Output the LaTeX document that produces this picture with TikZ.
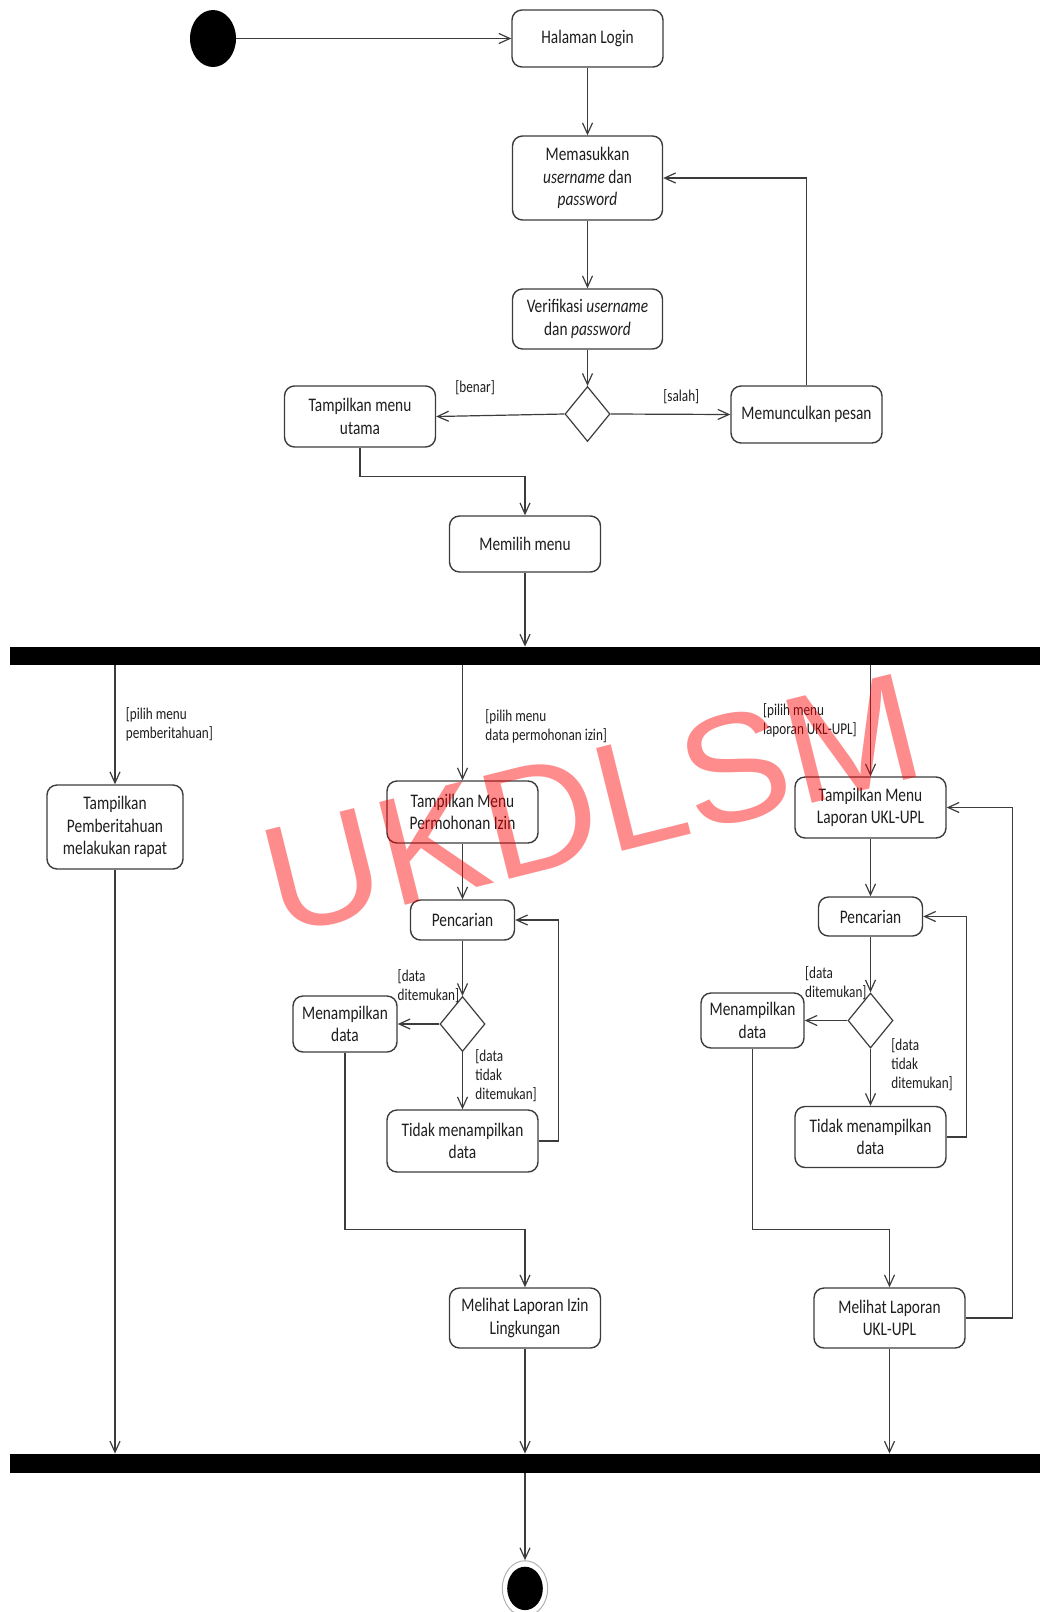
\documentclass[tikz,border=0pt]{standalone}
\usepackage{fontspec}
\usetikzlibrary{arrows.meta,shapes.geometric,calc}
\newfontfamily\carlitofam[FakeStretch=0.8]{Carlito}
\newfontfamily\wmfam[FakeStretch=1.045]{Liberation Sans}
\newcommand\boxfont{\carlitofam\fontsize{9.6}{11.35}\selectfont}
\newcommand\lblfont{\carlitofam\fontsize{8.25}{9.5}\selectfont}
\newcommand\wmfont{\wmfam\fontsize{77}{77}\selectfont}
\definecolor{linegray}{RGB}{60,60,60}
\definecolor{inkgray}{RGB}{30,30,30}

\begin{document}
\begin{tikzpicture}[x=0.5pt,y=-0.5pt,
  act/.style={draw=linegray, line width=0.7pt, rounded corners=5pt, align=center,
    font=\boxfont, text=inkgray, inner sep=0pt},
  dec/.style={diamond, draw=linegray, line width=0.6pt, inner sep=0pt,
    minimum width=22.5pt, minimum height=27.5pt},
  bar/.style={fill=black, inner sep=0pt, minimum width=517.5pt},
  flow/.style={draw=linegray, line width=0.6pt, -{Straight Barb[length=5.5pt,width=5pt]}},
  guard/.style={font=\lblfont, text=inkgray, align=left, inner sep=0pt, anchor=north west},
  stampstyle/.style={font=\wmfont, text=red, text opacity=0.45, inner sep=0pt},
]
\useasboundingbox (0,0) rectangle (1039,1612);

% ---- login part ----
\node[ellipse, fill=black, inner sep=0pt, minimum width=23pt, minimum height=28.5pt] (start) at (213,38.5) {};
\node[act, minimum width=75.5pt, minimum height=28.5pt] (login) at (587.5,38.5) {Halaman Login};
\node[act, minimum width=75pt, minimum height=42pt] (input) at (587.5,178) {Memasukkan\\\textit{username} dan\\\textit{password}};
\node[act, minimum width=75pt, minimum height=30pt] (verify) at (587.5,319) {Verifikasi \textit{username}\\dan \textit{password}};
\node[dec] (dec1) at (587.5,414) {};
\node[act, minimum width=75.5pt, minimum height=30.5pt] (menu) at (360,416.5) {Tampilkan menu\\utama};
\node[act, minimum width=75.5pt, minimum height=28.5pt] (msg) at (806.5,414.5) {Memunculkan pesan};
\node[act, minimum width=75.5pt, minimum height=28pt] (choose) at (525,544) {Memilih menu};

\node[bar, minimum height=9pt] (fork) at (527.5,656) {};

% ---- branches ----
\node[act, minimum width=68pt, minimum height=42pt] (notice) at (115,827) {Tampilkan\\Pemberitahuan\\melakukan rapat};

\node[act, minimum width=75.5pt, minimum height=31pt] (reqmenu) at (462.5,812) {Tampilkan Menu\\Permohonan Izin};
\node[act, minimum width=52pt, minimum height=20pt] (search1) at (462.5,920) {Pencarian};
\node[dec] (dec2) at (462.5,1024) {};
\node[act, minimum width=52pt, minimum height=28pt] (show1) at (345,1024) {Menampilkan\\data};
\node[act, minimum width=75.5pt, minimum height=31pt] (none1) at (462.5,1141) {Tidak menampilkan\\data};
\node[act, minimum width=75.5pt, minimum height=30pt] (view1) at (525,1318) {Melihat Laporan Izin\\Lingkungan};

\node[act, minimum width=75.5pt, minimum height=30.5pt] (uklmenu) at (870.5,807.5) {Tampilkan Menu\\Laporan UKL-UPL};
\node[act, minimum width=52pt, minimum height=19.5pt] (search2) at (870.5,916.5) {Pencarian};
\node[dec] (dec3) at (870.5,1020.5) {};
\node[act, minimum width=51.5pt, minimum height=27.5pt] (show2) at (752.5,1020.5) {Menampilkan\\data};
\node[act, minimum width=75.5pt, minimum height=30.5pt] (none2) at (870.5,1137) {Tidak menampilkan\\data};
\node[act, minimum width=75.5pt, minimum height=30pt] (view2) at (889.5,1318) {Melihat Laporan\\UKL-UPL};

\node[bar, minimum height=9.5pt] (join) at (527.5,1463.5) {};

\node[ellipse, draw=black!30, line width=0.5pt, inner sep=0pt, minimum width=22.7pt, minimum height=27.7pt] (final) at (525,1588.4) {};
\node[ellipse, fill=black, inner sep=0pt, minimum width=17.8pt, minimum height=21.7pt] (finaldot) at (final.center) {};

% ---- connectors ----
\draw[flow] (start.east) -- (login.west);
\draw[flow] (login.south) -- (input.north);
\draw[flow] (input.south) -- (verify.north);
\draw[flow] (verify.south) -- (dec1.north);
\draw[flow] (dec1.west) -- (menu.east);
\draw[flow] (dec1.east) -- (msg.west);
\draw[flow] (msg.north) |- (input.east);
\draw[flow] (menu.south) -- ++(0,29) -| (choose.north);
\draw[flow] (choose.south) -- (choose.south |- fork.north);

\draw[flow] (fork.south -| notice.north) -- (notice.north);
\draw[flow] (fork.south -| reqmenu.north) -- (reqmenu.north);
\draw[flow] (fork.south -| uklmenu.north) -- (uklmenu.north);

\draw[flow] (notice.south) -- (notice.south |- join.north);

\draw[flow] (reqmenu.south) -- (search1.north);
\draw[flow] (search1.south) -- (dec2.north);
\draw[flow] (dec2.west) -- (show1.east);
\draw[flow] (dec2.south) -- (none1.north);
\draw[flow] (none1.east) -- ++(19.5,0) |- (search1.east);
\draw[flow] (show1.south) -- ++(0,177) -| (view1.north);
\draw[flow] (view1.south) -- (view1.south |- join.north);

\draw[flow] (uklmenu.south) -- (search2.north);
\draw[flow] (search2.south) -- (dec3.north);
\draw[flow] (dec3.west) -- (show2.east);
\draw[flow] (dec3.south) -- (none2.north);
\draw[flow] (none2.east) -- ++(19.5,0) |- (search2.east);
\draw[flow] (show2.south) -- ++(0,181) -| (view2.north);
\draw[flow] (view2.east) -- ++(46.5,0) |- (uklmenu.east);
\draw[flow] (view2.south) -- (view2.south |- join.north);

\draw[flow] (join.south -| final.north) -- (final.north);

% ---- guard labels ----
\node[guard, anchor=base west] (gtrue) at (455,392) {[benar]};
\node[guard, anchor=base west] (gfalse) at (663,401) {[salah]};
\node[guard] (gnotice) at (125.5,707.5) {[pilih menu\\pemberitahuan]};
\node[guard] (greq) at (485,709) {[pilih menu\\data permohonan izin]};
\node[guard] (gukl) at (762.7,703.5) {[pilih menu\\laporan UKL-UPL]};
\node[guard] (gfound1) at (397.3,969.5) {[data\\ditemukan]};
\node[guard] (gmiss1) at (475,1049) {[data\\tidak\\ditemukan]};
\node[guard] (gfound2) at (804.7,966) {[data\\ditemukan]};
\node[guard] (gmiss2) at (891,1038.5) {[data\\tidak\\ditemukan]};

% ---- watermark ----
\node[stampstyle, rotate=14, anchor=base west] (stamp) at (279,936.6) {UKDLSM};
\end{tikzpicture}
\end{document}
